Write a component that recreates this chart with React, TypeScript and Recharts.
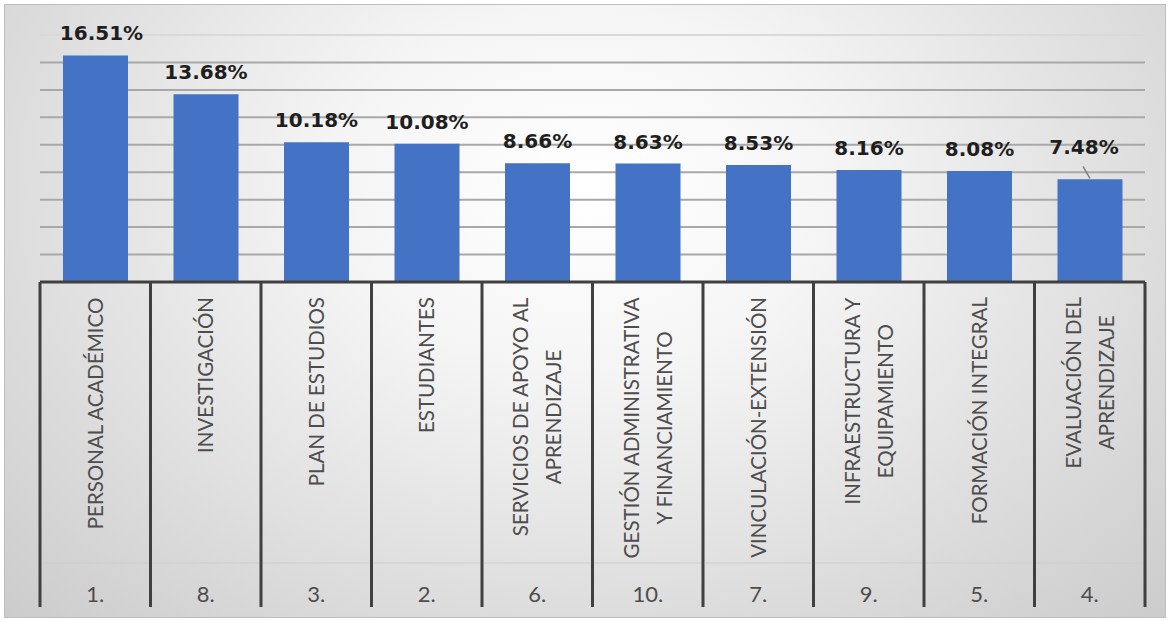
import { BarChart, Bar, XAxis, YAxis, CartesianGrid, LabelList } from "recharts";

const CATEGORIES = [
  "PERSONAL ACADÉMICO",
  "INVESTIGACIÓN",
  "PLAN DE ESTUDIOS",
  "ESTUDIANTES",
  "SERVICIOS DE APOYO AL\nAPRENDIZAJE",
  "GESTIÓN ADMINISTRATIVA\nY FINANCIAMIENTO",
  "VINCULACIÓN-EXTENSIÓN",
  "INFRAESTRUCTURA Y\nEQUIPAMIENTO",
  "FORMACIÓN INTEGRAL",
  "EVALUACIÓN DEL\nAPRENDIZAJE",
];
const RANKS = ["1.", "8.", "3.", "2.", "6.", "10.", "7.", "9.", "5.", "4."];
const VALUES = [16.51, 13.68, 10.18, 10.08, 8.66, 8.63, 8.53, 8.16, 8.08, 7.48];
const Y_TICKS = [0, 2, 4, 6, 8, 10, 12, 14, 16, 18];

const data = CATEGORIES.map((name, i) => ({ name, value: VALUES[i] }));

const W = 1169;
const H = 621;
const M = { top: 35, right: 24, left: 40, bottom: 0 };
const PLOT_BOTTOM = 282;
const BAND = (W - M.left - M.right) / CATEGORIES.length;
const AXIS_COLOR = "#404040";
const TEXT_GRAY = "#4d4d4d";
const LABEL_FONT = "Lato, 'Open Sans', sans-serif";

// manual nudges of a few data labels, like in the original
const LABEL_NUDGE: Record<number, { dx: number; dy: number; leader?: boolean }> = {
  0: { dx: 6, dy: 0 },
  9: { dx: -6, dy: -10, leader: true },
};

let ctx: CanvasRenderingContext2D | null = null;
function textWidth(s: string) {
  if (!ctx) ctx = document.createElement("canvas").getContext("2d");
  if (!ctx) return s.length * 11;
  ctx.font = `20.5px ${LABEL_FONT}`;
  return ctx.measureText(s).width;
}

function CategoryTick(props: any) {
  const { x, index } = props;
  const lines = CATEGORIES[index].split("\n");
  const maxW = Math.max(...lines.map(textWidth));
  const cy = 297 + maxW / 2;
  const left = x - BAND / 2;
  const right = x + BAND / 2;
  return (
    <g>
      <line x1={left} y1={PLOT_BOTTOM} x2={left} y2={607} stroke={AXIS_COLOR} strokeWidth={3} />
      {index === CATEGORIES.length - 1 && (
        <line x1={right} y1={PLOT_BOTTOM} x2={right} y2={607} stroke={AXIS_COLOR} strokeWidth={3} />
      )}
      <line x1={left + 2} y1={563} x2={right - 2} y2={563} stroke="#cdcdcd" strokeWidth={1} />
      {lines.map((ln, i) => {
        const lx = x + (i - (lines.length - 1) / 2) * 33;
        return (
          <text
            key={i}
            x={lx}
            y={cy}
            dy="0.36em"
            transform={`rotate(-90 ${lx} ${cy})`}
            textAnchor="middle"
            fontFamily={LABEL_FONT}
            fontSize={20.5}
            fill={TEXT_GRAY}
          >
            {ln}
          </text>
        );
      })}
      <text x={x} y={602} textAnchor="middle" fontFamily={LABEL_FONT} fontSize={22} fill={TEXT_GRAY}>
        {RANKS[index]}
      </text>
    </g>
  );
}

function ValueLabel(props: any) {
  const { x, y, width, value, index } = props;
  const n = LABEL_NUDGE[index] || { dx: 0, dy: 0 };
  const cx = x + width / 2;
  const ty = y - 15 + n.dy;
  return (
    <g>
      {n.leader && <line x1={cx - 7} y1={ty + 12} x2={cx} y2={y - 1} stroke="#7f7f7f" strokeWidth={1.5} />}
      <text
        x={cx + n.dx}
        y={ty}
        textAnchor="middle"
        fontFamily="'DejaVu Sans', Verdana, sans-serif"
        fontWeight="bold"
        fontSize={20}
        fill="#1e1e1e"
      >
        {value.toFixed(2)}%
      </text>
    </g>
  );
}

function GridLine(props: any) {
  const { x1, x2, y1, y2, index } = props;
  const top = index === Y_TICKS.length - 1 || y1 < M.top + 2;
  return <line x1={x1} x2={x2} y1={y1} y2={y2} stroke={top ? "#d9d9d9" : "#a8a8a8"} strokeWidth={2} />;
}

export default function App() {
  return (
    <div style={{ position: "absolute", left: 0, top: 0, width: W, height: H, background: "#fff" }}>
      <div
        style={{
          position: "absolute",
          left: 4,
          top: 4,
          width: W - 9,
          height: H - 9,
          border: "1px solid #bdbdbd",
          background: "radial-gradient(ellipse at 50% 30%, #ffffff 0%, #f5f5f5 30%, #dadada 75%, #cccccc 100%)",
        }}
      />
      <div style={{ position: "absolute", left: 0, top: 0 }}>
        <BarChart width={W} height={H} data={data} margin={M}>
          <CartesianGrid vertical={false} horizontal={GridLine} />
          <YAxis hide domain={[0, 18]} ticks={Y_TICKS} />
          <XAxis
            dataKey="name"
            interval={0}
            height={H - PLOT_BOTTOM - M.bottom}
            tickLine={false}
            axisLine={{ stroke: AXIS_COLOR, strokeWidth: 3 }}
            tick={CategoryTick}
          />
          <Bar dataKey="value" fill="#4472c4" barSize={65} isAnimationActive={false}>
            <LabelList dataKey="value" content={ValueLabel} />
          </Bar>
        </BarChart>
      </div>
    </div>
  );
}
